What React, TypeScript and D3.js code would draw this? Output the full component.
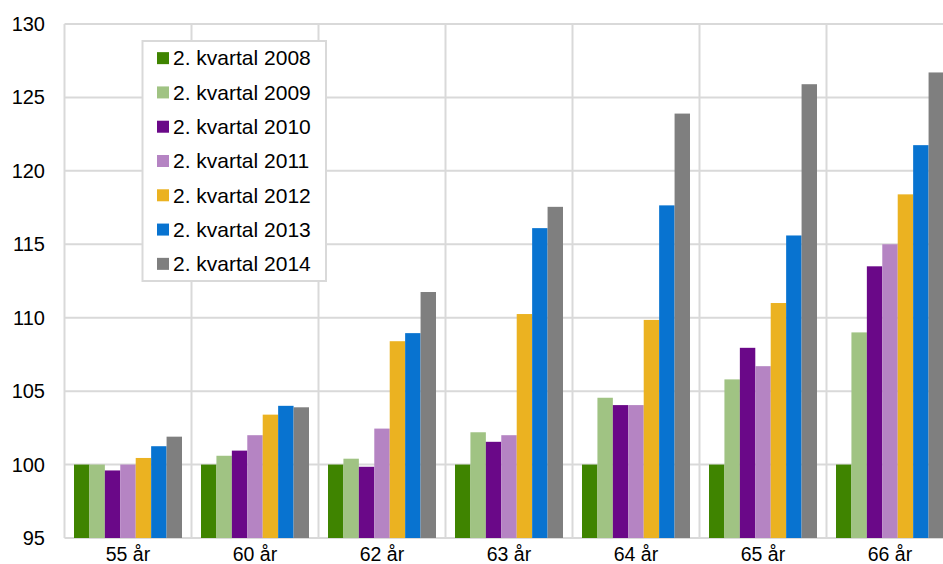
import React from "react";
import * as d3 from "d3";

const categories = ["55 år", "60 år", "62 år", "63 år", "64 år", "65 år", "66 år"];
const seriesNames = [
  "2. kvartal 2008",
  "2. kvartal 2009",
  "2. kvartal 2010",
  "2. kvartal 2011",
  "2. kvartal 2012",
  "2. kvartal 2013",
  "2. kvartal 2014",
];
const colors = ["#3F8400", "#A0C383", "#6A0888", "#B584C3", "#EBB221", "#0873D0", "#7F7F7F"];
const s2008 = [100, 100, 100, 100, 100, 100, 100];
const s2009 = [100, 100.6, 100.4, 102.2, 104.55, 105.8, 109.0];
const s2010 = [99.6, 100.95, 99.85, 101.55, 104.05, 107.95, 113.5];
const s2011 = [100, 102.0, 102.45, 102.0, 104.05, 106.7, 115.0];
const s2012 = [100.45, 103.4, 108.4, 110.25, 109.85, 111.0, 118.4];
const s2013 = [101.25, 104.0, 108.95, 116.1, 117.65, 115.6, 121.75];
const s2014 = [101.9, 103.9, 111.75, 117.55, 123.9, 125.9, 126.7];
const seriesValues = [s2008, s2009, s2010, s2011, s2012, s2013, s2014];
const yTicks = [95, 100, 105, 110, 115, 120, 125, 130];

export default function App() {
  const W = 943;
  const H = 564;
  const left = 64.5;
  const right = 953.5;
  const top = 24;
  const bottom = 538;
  const y = d3.scaleLinear().domain([95, 130]).range([bottom, top]);
  const x0 = d3.scaleBand<string>().domain(categories).range([left, right]).padding(0);
  const bw = x0.bandwidth();
  const pad = 9.5;
  const x1 = d3
    .scaleBand<number>()
    .domain(seriesNames.map((_, i) => i))
    .range([pad, bw - pad])
    .padding(0);
  const grid = "#D9D9D9";
  const font = "Liberation Sans, Arial, sans-serif";

  const legX = 142.5;
  const legY = 41;
  const legW = 183.5;
  const legH = 240;
  const rowH = legH / 7;

  return (
    <svg
      width={W}
      height={H}
      style={{ position: "absolute", left: 0, top: 0, background: "#fff" }}
      fontFamily={font}
    >
      {yTicks.map((t) => (
        <line key={"h" + t} x1={left} x2={right} y1={y(t)} y2={y(t)} stroke={grid} strokeWidth={2} />
      ))}
      {categories.map((c) => (
        <line key={"v" + c} x1={x0(c)!} x2={x0(c)!} y1={top} y2={bottom} stroke={grid} strokeWidth={2} />
      ))}
      <line x1={right} x2={right} y1={top} y2={bottom} stroke={grid} strokeWidth={2} />
      {categories.map((c, ci) => (
        <g key={"g" + c} transform={`translate(${x0(c)},0)`}>
          {seriesValues.map((vals, si) => (
            <rect
              key={si}
              x={x1(si)!}
              width={x1.bandwidth()}
              y={y(vals[ci])}
              height={y(95) - y(vals[ci])}
              fill={colors[si]}
            />
          ))}
        </g>
      ))}
      {yTicks.map((t) => (
        <text key={"yl" + t} x={45} y={y(t)} dy="0.35em" textAnchor="end" fontSize={20} fill="#000">
          {t}
        </text>
      ))}
      {categories.map((c) => (
        <text key={"xl" + c} x={x0(c)! + bw / 2} y={561} textAnchor="middle" fontSize={19.5} fill="#000">
          {c}
        </text>
      ))}
      <rect x={legX} y={legY} width={legW} height={legH} fill="#fff" stroke={grid} strokeWidth={2} />
      {seriesNames.map((n, i) => {
        const cy = legY + rowH * (i + 0.5);
        return (
          <g key={"leg" + i}>
            <rect x={157} y={cy - 6} width={12} height={12} fill={colors[i]} />
            <text x={173} y={cy} dy="0.35em" fontSize={21} fill="#000">
              {n}
            </text>
          </g>
        );
      })}
    </svg>
  );
}
